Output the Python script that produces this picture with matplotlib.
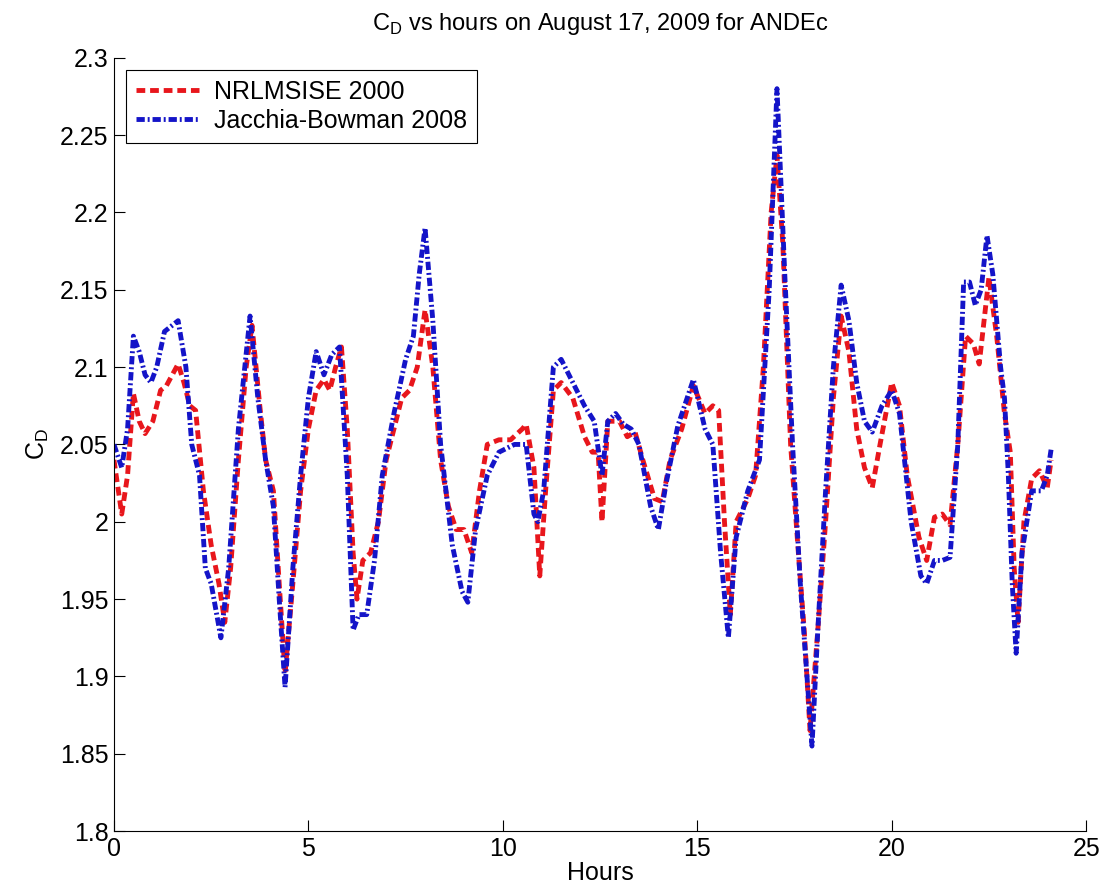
import numpy as np
import matplotlib
matplotlib.use('Agg')
import matplotlib.pyplot as plt

plt.rcParams['font.family'] = ['Liberation Sans', 'DejaVu Sans']

# NRLMSISE 2000
h_nrl = [0, 0.2, 0.35, 0.5, 0.65, 0.8, 1.0, 1.2, 1.35, 1.5, 1.65, 1.8, 1.95, 2.1, 2.3, 2.5,
         2.7, 2.85, 3.0, 3.2, 3.4, 3.55, 3.75, 3.9, 4.1, 4.25, 4.4, 4.6, 4.8, 5.0, 5.2, 5.4,
         5.55, 5.7, 5.85, 6.0, 6.15, 6.25, 6.4, 6.6, 6.8, 7.0, 7.2, 7.4, 7.6, 7.8, 8.0, 8.2,
         8.4, 8.6, 8.8, 9.0, 9.2, 9.4, 9.6, 9.9, 10.2, 10.5, 10.6, 10.8, 10.95, 11.1, 11.3,
         11.5, 11.8, 12.1, 12.3, 12.45, 12.55, 12.7, 13.0, 13.2, 13.4, 13.6, 13.9, 14.1, 14.3,
         14.6, 14.9, 15.2, 15.4, 15.55, 15.7, 15.85, 16.0, 16.3, 16.5, 16.7, 16.9, 17.05, 17.2,
         17.4, 17.6, 17.75, 17.9, 18.1, 18.3, 18.5, 18.7, 18.9, 19.1, 19.3, 19.5, 19.7, 20.0,
         20.2, 20.4, 20.7, 20.9, 21.1, 21.3, 21.5, 21.7, 21.9, 22.1, 22.25, 22.5, 22.7, 22.9,
         23.05, 23.15, 23.25, 23.4, 23.6, 23.8, 24.0, 24.1]
cd_nrl = [2.04, 2.005, 2.03, 2.083, 2.065, 2.057, 2.065, 2.085, 2.088, 2.095, 2.102, 2.09,
          2.075, 2.072, 2.02, 1.985, 1.96, 1.935, 1.97, 2.04, 2.1, 2.127, 2.075, 2.04, 2.02,
          1.96, 1.902, 1.96, 2.02, 2.06, 2.085, 2.092, 2.085, 2.1, 2.113, 2.06, 1.98, 1.95,
          1.975, 1.98, 2.0, 2.04, 2.06, 2.08, 2.085, 2.1, 2.137, 2.1, 2.04, 2.01, 1.995, 1.995,
          1.98, 2.02, 2.05, 2.053, 2.053, 2.06, 2.063, 2.035, 1.965, 2.02, 2.085, 2.09, 2.08,
          2.055, 2.045, 2.045, 2.0, 2.065, 2.065, 2.055, 2.058, 2.04, 2.015, 2.013, 2.04, 2.06,
          2.088, 2.07, 2.075, 2.072, 2.0, 1.94, 2.0, 2.015, 2.03, 2.1, 2.2, 2.237, 2.18, 2.05,
          1.98, 1.93, 1.865, 1.93, 2.0, 2.08, 2.133, 2.11, 2.06, 2.035, 2.022, 2.05, 2.09,
          2.075, 2.03, 1.99, 1.975, 2.003, 2.005, 1.998, 2.05, 2.12, 2.115, 2.102, 2.158, 2.12,
          2.07, 2.045, 1.97, 1.935, 2.0, 2.028, 2.033, 2.022, 2.04]

# Jacchia-Bowman 2008
h_jb = [0, 0.2, 0.35, 0.5, 0.65, 0.8, 0.95, 1.1, 1.3, 1.5, 1.65, 1.85, 2.0, 2.2, 2.35, 2.5,
        2.75, 2.95, 3.2, 3.5, 3.7, 3.9, 4.1, 4.25, 4.4, 4.6, 4.8, 5.0, 5.2, 5.4, 5.6, 5.8,
        6.0, 6.15, 6.3, 6.5, 6.7, 6.9, 7.2, 7.5, 7.7, 7.85, 8.0, 8.2, 8.4, 8.7, 8.95, 9.1,
        9.3, 9.6, 9.9, 10.3, 10.6, 10.8, 10.9, 11.05, 11.3, 11.5, 11.8, 12.1, 12.35, 12.55,
        12.7, 12.9, 13.1, 13.3, 13.5, 13.8, 14.0, 14.2, 14.5, 14.9, 15.2, 15.4, 15.6, 15.8,
        16.0, 16.3, 16.6, 16.85, 17.05, 17.25, 17.45, 17.65, 17.95, 18.1, 18.3, 18.5, 18.7,
        18.9, 19.1, 19.3, 19.5, 19.75, 20.0, 20.2, 20.5, 20.75, 20.9, 21.1, 21.3, 21.5, 21.7,
        21.85, 22.0, 22.15, 22.3, 22.45, 22.6, 22.8, 22.9, 23.0, 23.1, 23.2, 23.35, 23.6,
        23.85, 24.0, 24.1]
cd_jb = [2.05, 2.035, 2.06, 2.12, 2.11, 2.095, 2.09, 2.1, 2.123, 2.127, 2.13, 2.1, 2.05,
         2.03, 1.97, 1.96, 1.925, 1.97, 2.06, 2.133, 2.08, 2.04, 2.01, 1.95, 1.893, 1.97,
         2.03, 2.08, 2.11, 2.095, 2.108, 2.113, 2.03, 1.93, 1.94, 1.94, 1.975, 2.03, 2.07,
         2.105, 2.12, 2.16, 2.19, 2.13, 2.05, 1.985, 1.955, 1.948, 1.995, 2.03, 2.045, 2.05,
         2.05, 2.005, 2.0, 2.02, 2.1, 2.105, 2.09, 2.075, 2.065, 2.03, 2.065, 2.07, 2.063,
         2.06, 2.05, 2.01, 1.995, 2.025, 2.062, 2.092, 2.06, 2.05, 1.98, 1.925, 1.99, 2.02,
         2.04, 2.15, 2.28, 2.16, 2.05, 1.96, 1.855, 1.93, 2.02, 2.1, 2.153, 2.13, 2.09, 2.065,
         2.058, 2.075, 2.085, 2.07, 2.0, 1.965, 1.96, 1.975, 1.975, 1.977, 2.05, 2.155, 2.155,
         2.14, 2.15, 2.185, 2.16, 2.1, 2.08, 2.03, 1.96, 1.915, 1.98, 2.02, 2.02, 2.03, 2.047]

fig = plt.figure(figsize=(11.01, 8.88), dpi=100)
ax = fig.add_axes([0.1035, 0.064, 0.883, 0.871])

ax.plot(h_nrl, cd_nrl, color='#e8161c', lw=3.5, dashes=(1.8, 1.0), label='NRLMSISE 2000')
ax.plot(h_jb, cd_jb, color='#1414c8', lw=3.5, dashes=(1.7, 0.6, 0.4, 0.6), label='Jacchia-Bowman 2008')

ax.set_xlim(0, 25)
ax.set_ylim(1.8, 2.3)
ax.set_xticks([0, 5, 10, 15, 20, 25])
ax.set_yticks(np.arange(1.8, 2.301, 0.05))
ax.set_yticklabels(['1.8', '1.85', '1.9', '1.95', '2', '2.05', '2.1', '2.15', '2.2', '2.25', '2.3'])
ax.tick_params(direction='in', length=8, labelsize=18, width=0.8, pad=4)
ax.spines['top'].set_visible(False)
ax.spines['right'].set_visible(False)

ax.set_xlabel('Hours', fontsize=18, labelpad=0)
ax.set_ylabel('C$_\\mathregular{D}$', fontsize=18, labelpad=6)
ax.set_title('C$_\\mathregular{D}$ vs hours on August 17, 2009 for ANDEc', fontsize=17, pad=20)

leg = ax.legend(loc='upper left', fontsize=18, fancybox=False, framealpha=1,
                edgecolor='black', handlelength=2.5, handletextpad=0.6,
                borderaxespad=0.5, borderpad=0.4, labelspacing=0.2)
leg.get_frame().set_linewidth(0.8)

plt.savefig('out.png', dpi=100)
